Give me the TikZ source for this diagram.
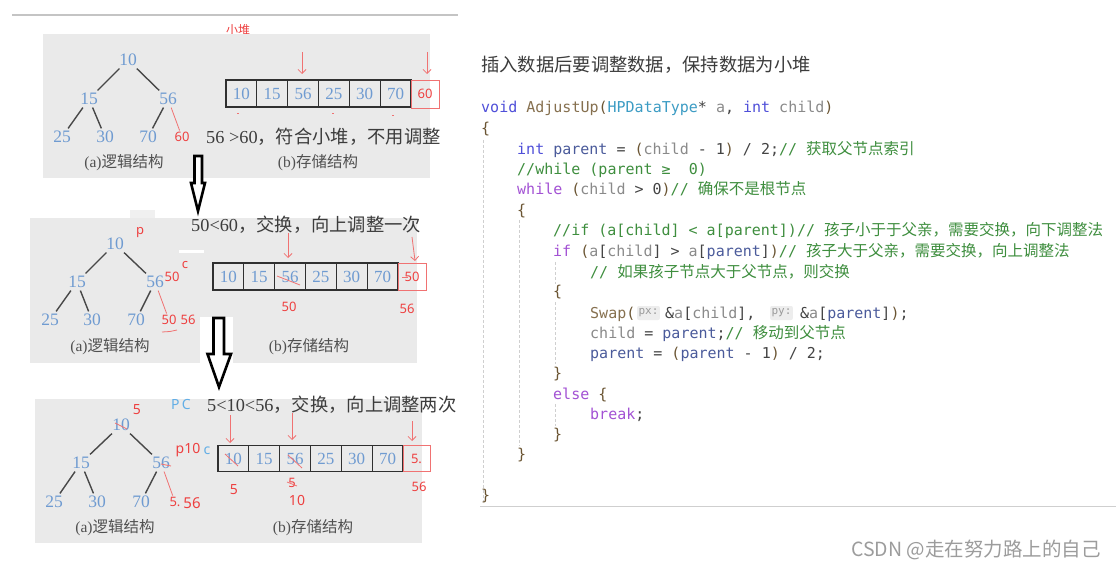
\documentclass[tikz,border=0pt]{standalone}
\usepackage{fontspec}
\setmainfont{Liberation Serif}
\setmonofont{DejaVu Sans Mono}
\newfontfamily\cjk{Noto Sans CJK SC}
\newfontfamily\redsans{Noto Sans}
\usetikzlibrary{arrows.meta}
\definecolor{panelgray}{HTML}{EAEAEA}
\definecolor{tabgray}{HTML}{F0F0F0}
\definecolor{numblue}{HTML}{6F9BD1}
\definecolor{redmark}{HTML}{EE4040}
\definecolor{redline}{HTML}{F07272}
\definecolor{hintblue}{HTML}{62AEE6}
\definecolor{txtdark}{HTML}{3C3C3C}
\definecolor{capgray}{HTML}{505050}
\definecolor{edgegray}{HTML}{484848}
\definecolor{celldark}{HTML}{303030}
\definecolor{topline}{HTML}{C4C4C4}
\definecolor{kwblue}{HTML}{4F4FD9}
\definecolor{fnbrown}{HTML}{86704F}
\definecolor{typeteal}{HTML}{3C9CC4}
\definecolor{vargray}{HTML}{8A8A8A}
\definecolor{parblue}{HTML}{4B5B9B}
\definecolor{cmtgreen}{HTML}{3E8E3E}
\definecolor{ctlpurple}{HTML}{A352D4}
\definecolor{punct}{HTML}{444444}
\definecolor{bracebrown}{HTML}{6B5533}
\definecolor{hintbg}{HTML}{EDEDED}
\definecolor{hintfg}{HTML}{9A9A9A}
\definecolor{guide}{HTML}{CFCFCF}
\definecolor{wm}{HTML}{9C9C9C}
\newcommand\cfont{\fontsize{15}{15}\selectfont\ttfamily}
\newcommand\ccjk{\cjk\fontsize{15.5}{15}\selectfont}
\newcommand\ckw[1]{\textcolor{kwblue}{#1}}
\newcommand\cfn[1]{\textcolor{fnbrown}{#1}}
\newcommand\cty[1]{\textcolor{typeteal}{#1}}
\newcommand\cva[1]{\textcolor{vargray}{#1}}
\newcommand\cpa[1]{\textcolor{parblue}{#1}}
\newcommand\ccm[1]{\textcolor{cmtgreen}{#1}}
\newcommand\cct[1]{\textcolor{ctlpurple}{#1}}
\newcommand\cpu[1]{\textcolor{punct}{#1}}
\newcommand\cbr[1]{\textcolor{bracebrown}{#1}}
\tikzset{
  panelbg/.style={fill=panelgray, draw=none},
  tnum/.style={font=\fontsize{17.5}{17.5}\selectfont, text=numblue, inner sep=2.5pt},
  rnum/.style={font=\redsans\fontsize{13}{13}\selectfont, text=redmark, inner sep=1.5pt},
  hand/.style={font=\redsans\fontsize{14}{14}\selectfont, text=redmark, inner sep=1pt},
  tedge/.style={draw=edgegray, line width=1.4pt},
  redthin/.style={draw=redline, line width=0.8pt},
  redarrow/.style={draw=redline, line width=0.8pt, -{Straight Barb[length=4pt,width=8pt]}},
  cellbox/.style={draw=celldark, line width=1.3pt, minimum width=30.83pt, inner sep=0, font=\fontsize{17}{17}\selectfont, text=numblue},
  rcellbox/.style={draw=redline, line width=0.9pt, inner sep=0, font=\redsans\fontsize{13}{13}\selectfont, text=redmark},
  captext/.style={font=\fontsize{15.5}{15.5}\selectfont, text=capgray, inner sep=0},
  phr/.style={font=\fontsize{18.3}{18.3}\selectfont, text=txtdark, anchor=west, inner sep=0},
  hollow/.style={draw=black, fill=white, line width=2.6pt, line join=miter},
  codeline/.style={anchor=base west, inner sep=0, font=\cfont},
  hintbox/.style={fill=hintbg, rounded corners=2pt, inner sep=1.5pt, font=\fontsize{11}{11}\selectfont\ttfamily, text=hintfg, minimum height=14pt},
  guideline/.style={draw=guide, line width=0.8pt, dash pattern=on 3pt off 2pt}
}
\begin{document}
\begin{tikzpicture}[x=1pt,y=-1pt]
\useasboundingbox (0,0) rectangle (1116,569);
\fill[white] (0,0) rectangle (1116,569);
% top rule
\draw[topline, line width=1.4pt] (12,15) -- (458,15);
\node[font=\cjk\fontsize{12}{12}\selectfont, text=redmark] (xiaodui) at (238,30) {小堆};

%================ Panel 1 ================
\fill[panelbg] (43,34) rectangle (430,178);
\node[tnum] (t1a) at (128,60) {10};
\node[tnum] (t1b) at (89,99) {15};
\node[tnum] (t1c) at (168,99) {56};
\node[tnum] (t1d) at (62,137) {25};
\node[tnum] (t1e) at (105,137) {30};
\node[tnum] (t1f) at (148,137) {70};
\node[rnum] (t1g) at (182,137) {60};
\draw[tedge] (t1a) -- (t1b);
\draw[tedge] (t1a) -- (t1c);
\draw[tedge] (t1b) -- (t1d);
\draw[tedge] (t1b) -- (t1e);
\draw[tedge] (t1c) -- (t1f);
\draw[redthin] (t1c) -- (t1g);
\foreach \v [count=\i] in {10,15,56,25,30,70}
  \node[cellbox, minimum height=27pt] (p1c\i) at ({226+30.83*(\i-0.5)},93.5) {\v};
\node[rcellbox, minimum width=28pt, minimum height=28pt] (p1r) at (425,94) {60};
\coordinate (p1a1) at (302,52);
\coordinate (p1a2) at (427,52);
\draw[redarrow] (p1a1) -- (302,74);
\draw[redarrow] (p1a2) -- (427,74);
\draw[redthin] (237,113) -- (239,113);
\draw[redthin] (332,113) -- (334,113);
\draw[redthin] (392,115) -- (394,115);
\node[phr] (s1) at (206,137) {56 >60{\cjk ，符合小堆，不用调整}};
\node[captext] (cap1a) at (124,163) {(a){\cjk 逻辑结构}};
\node[captext] (cap1b) at (318,163) {(b){\cjk 存储结构}};

% hollow arrow 1
\draw[hollow] (194.5,156) -- (202,156) -- (202,183) -- (205,183) -- (198,211) -- (191,183) -- (194.5,183) -- cycle;

%================ Panel 2 ================
\fill[panelbg] (30,218) rectangle (417,363);
\fill[tabgray] (130,210) rectangle (155,218);
\fill[white] (179,250) rectangle (204,253);
\fill[white] (200,317) rectangle (233,363);
\node[tnum] (t2a) at (115,244) {10};
\node[tnum] (t2b) at (77,282) {15};
\node[tnum] (t2c) at (155,282) {56};
\node[tnum] (t2d) at (50,320) {25};
\node[tnum] (t2e) at (92,320) {30};
\node[tnum] (t2f) at (136,320) {70};
\node[rnum] (t2g) at (169,320) {50};
\node[rnum] (t2h) at (188,320) {56};
\node[rnum] (t2p) at (140,233) {p};
\node[rnum] (t2q) at (185,265) {c};
\node[rnum] (t2r) at (172,277) {50};
\draw[tedge] (t2a) -- (t2b);
\draw[tedge] (t2a) -- (t2c);
\draw[tedge] (t2b) -- (t2d);
\draw[tedge] (t2b) -- (t2e);
\draw[tedge] (t2c) -- (t2f);
\draw[redthin] (t2c) -- (t2g);
\draw[redthin] (162,332) -- (170,331.5) -- (177,330);
\foreach \v [count=\i] in {10,15,56,25,30,70}
  \node[cellbox, minimum height=27pt] (p2c\i) at ({213+30.83*(\i-0.5)},276.5) {\v};
\node[rcellbox, minimum width=28pt, minimum height=27pt] (p2r) at (412,276.5) {50};
\draw[redthin] (277,276) -- (300,285);
\draw[redthin] (402,277) -- (408,277);
\node[rnum] (p2u) at (289,307) {50};
\node[rnum] (p2v) at (407,309) {56};
\coordinate (p2a1) at (288,233);
\coordinate (p2a2) at (412,237);
\draw[redarrow] (p2a1) -- (288,258);
\draw[redarrow] (p2a2) .. controls (414,248) .. (415,261);
\node[phr] (s2) at (191,225) {50<60{\cjk ，交换，向上调整一次}};
\node[captext] (cap2a) at (110,347) {(a){\cjk 逻辑结构}};
\node[captext] (cap2b) at (309,347) {(b){\cjk 存储结构}};

% hollow arrow 2
\draw[hollow] (213.5,318) -- (224,318) -- (224,354) -- (231,354) -- (219,387) -- (207.5,354) -- (213.5,354) -- cycle;

%================ Panel 3 ================
\fill[panelbg] (35,399) rectangle (422,543);
\node[tnum] (t3a) at (121,425) {10};
\node[tnum] (t3b) at (81,463) {15};
\node[tnum] (t3c) at (161,463) {56};
\node[tnum] (t3d) at (54,502) {25};
\node[tnum] (t3e) at (97,502) {30};
\node[tnum] (t3f) at (141,502) {70};
\node[rnum] (t3g) at (175,502) {5.};
\node[hand, font=\redsans\fontsize{15}{15}\selectfont] (t3h) at (192,503) {56};
\node[hand] (t3i) at (137,410) {5};
\node[hand, text=hintblue] (t3j) at (181,405) {P\,C};
\node[hand] (t3k) at (188,450) {p10};
\node[hand, text=hintblue] (t3l) at (207,451) {c};
\draw[tedge] (t3a) -- (t3b);
\draw[tedge] (t3a) -- (t3c);
\draw[tedge] (t3b) -- (t3d);
\draw[tedge] (t3b) -- (t3e);
\draw[tedge] (t3c) -- (t3f);
\draw[redthin] (t3c) -- (t3g);
\draw[redthin] (115,423) -- (127,429);
\draw[redthin] (161,464) -- (171,466);
\foreach \v [count=\i] in {10,15,56,25,30,70}
  \node[cellbox, minimum height=25.5pt] (p3c\i) at ({218+30.83*(\i-0.5)},458.5) {\v};
\node[rcellbox, minimum width=27pt, minimum height=25.5pt] (p3r) at (416.5,458.5) {5.};
\draw[redthin] (225,454) -- (238,466);
\draw[redthin] (288,455) -- (302,468);
\node[hand] (p3u) at (234,490) {5};
\node[rnum] (p3v) at (292,483) {5};
\draw[redthin] (287,482) -- (297,486);
\node[hand] (p3w) at (297,500) {10};
\node[rnum] (p3x) at (419,487) {56};
\coordinate (p3a1) at (230,415);
\coordinate (p3a2) at (292,413);
\coordinate (p3a3) at (412,421);
\draw[redarrow] (p3a1) -- (230,443);
\draw[redarrow] (p3a2) -- (292,440);
\draw[redarrow] (p3a3) -- (412,441);
\node[phr] (s3) at (207,405) {5<10<56{\cjk ，交换，向上调整两次}};
\node[captext] (cap3a) at (115,528) {(a){\cjk 逻辑结构}};
\node[captext] (cap3b) at (313,528) {(b){\cjk 存储结构}};

%================ Right side: code ================
\node[font=\cjk\fontsize{18.3}{18.3}\selectfont, text=txtdark, anchor=west, inner sep=0] (title) at (481,65) {插入数据后要调整数据，保持数据为小堆};

\draw[guideline] (483,140) -- (483,502);
\draw[guideline] (519,220) -- (519,446);
\draw[guideline] (555,262) -- (555,284);
\draw[guideline] (555,302) -- (555,364);
\draw[guideline] (555,404) -- (555,426);

\node[codeline] (l1) at (481,113) {\ckw{void} \cfn{AdjustUp}\cbr{(}\cty{HPDataType}\cpu{*} \cva{a}\cpu{,} \ckw{int} \cva{child}\cbr{)}};
\node[codeline] (l2) at (481,134) {\cbr{\{}};
\node[codeline] (l3) at (517,155) {\ckw{int} \cpa{parent} \cpu{=} \cbr{(}\cva{child} \cpu{-} \cpu{1}\cbr{)} \cpu{/} \cpu{2;}\ccm{// {\ccjk 获取父节点索引}}};
\node[codeline] (l4) at (517,175) {\ccm{//while (parent ≥\ \ 0)}};
\node[codeline] (l5) at (517,195) {\cct{while} \cbr{(}\cva{child} \cpu{>} \cpu{0}\cbr{)}\ccm{// {\ccjk 确保不是根节点}}};
\node[codeline] (l6) at (517,216) {\cbr{\{}};
\node[codeline] (l7) at (553,236) {\ccm{//if (a[child] < a[parent])// {\ccjk 孩子小于于父亲，需要交换，向下调整法}}};
\node[codeline] (l8) at (553,257) {\cct{if} \cbr{(}\cva{a}\cpu{[}\cva{child}\cpu{]} \cpu{>} \cva{a}\cpu{[}\cpa{parent}\cpu{]}\cbr{)}\ccm{// {\ccjk 孩子大于父亲，需要交换，向上调整法}}};
\node[codeline] (l9) at (590,277) {\ccm{// {\ccjk 如果孩子节点大于父节点，则交换}}};
\node[codeline] (l10) at (553,297) {\cbr{\{}};
\node[codeline] (l11a) at (590,318) {\cfn{Swap}\cbr{(}};
\node[hintbox] (h1) at (648.5,313) {px:};
\node[codeline] (l11b) at (665,318) {\cpu{\&}\cva{a}\cpu{[}\cva{child}\cpu{],}};
\node[hintbox] (h2) at (781.5,313) {py:};
\node[codeline] (l11c) at (800,318) {\cpu{\&}\cva{a}\cpu{[}\cpa{parent}\cpu{]}\cbr{)}\cpu{;}};
\node[codeline] (l12) at (590,338) {\cva{child} \cpu{=} \cpa{parent}\cpu{;}\ccm{// {\ccjk 移动到父节点}}};
\node[codeline] (l13) at (590,358) {\cpa{parent} \cpu{=} \cbr{(}\cpa{parent} \cpu{-} \cpu{1}\cbr{)} \cpu{/} \cpu{2;}};
\node[codeline] (l14) at (553,378) {\cbr{\}}};
\node[codeline] (l15) at (553,399) {\cct{else} \cbr{\{}};
\node[codeline] (l16) at (590,419) {\cct{break}\cpu{;}};
\node[codeline] (l17) at (553,439) {\cbr{\}}};
\node[codeline] (l18) at (517,459) {\cbr{\}}};
\node[codeline] (l19) at (481,500) {\cbr{\}}};
\draw[draw=guide, line width=0.8pt] (480,506.5) -- (1116,506.5);

\node[font=\cjk\fontsize{19.5}{19.5}\selectfont, text=wm, anchor=east, inner sep=0] (wmark) at (1101,550) {CSDN @走在努力路上的自己};
\end{tikzpicture}
\end{document}
